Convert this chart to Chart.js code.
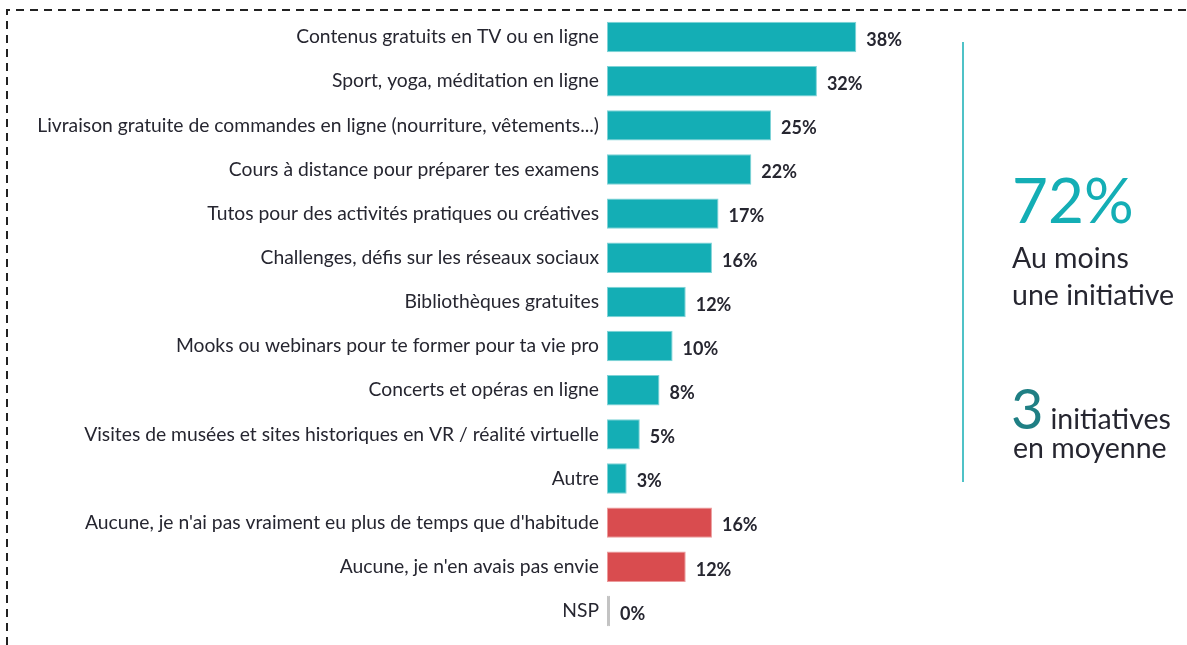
<!DOCTYPE html>
<html>
<head>
<meta charset="utf-8">
<script src="https://cdn.jsdelivr.net/npm/chart.js@4"></script>
<style>
  html, body { margin: 0; padding: 0; background: #fff; }
  #wrap { position: relative; width: 1187px; height: 645px; overflow: hidden; }
  #chart { position: absolute; left: 0; top: 0; }
  .side { position: absolute; font-family: Lato, sans-serif; color: #262630; white-space: nowrap; }
  .big { color: #14aeb5; font-size: 62px; line-height: 1; }
  .big3 { color: #1f7f84; font-size: 56px; line-height: 1; }
  .txt { font-size: 28.5px; line-height: 37px; }
</style>
</head>
<body>
<div id="wrap">
  <canvas id="chart" width="1187" height="645"></canvas>
  <div class="side big" style="left:1012px; top:168px;">72%</div>
  <div class="side txt" style="left:1012px; top:239px;">Au moins<br>une initiative</div>
  <div class="side" style="left:1011px; top:380px;"><span class="big3">3</span><span class="txt" style="margin-left:7px;">initiatives</span></div>
  <div class="side txt" style="left:1013px; top:429px;">en moyenne</div>
</div>
<script>
// Data
const categories = [
  "Contenus gratuits en TV ou en ligne",
  "Sport, yoga, méditation en ligne",
  "Livraison gratuite de commandes en ligne (nourriture, vêtements...)",
  "Cours à distance pour préparer tes examens",
  "Tutos pour des activités pratiques ou créatives",
  "Challenges, défis sur les réseaux sociaux",
  "Bibliothèques gratuites",
  "Mooks ou webinars pour te former pour ta vie pro",
  "Concerts et opéras en ligne",
  "Visites de musées et sites historiques en VR / réalité virtuelle",
  "Autre",
  "Aucune, je n'ai pas vraiment eu plus de temps que d'habitude",
  "Aucune, je n'en avais pas envie",
  "NSP"
];
const values = [38, 32, 25, 22, 17, 16, 12, 10, 8, 5, 3, 16, 12, 0];
const barColors = [
  "#14aeb5", "#14aeb5", "#14aeb5", "#14aeb5", "#14aeb5", "#14aeb5", "#14aeb5",
  "#14aeb5", "#14aeb5", "#14aeb5", "#14aeb5", "#d94c4f", "#d94c4f", "#c3c3c3"
];
const borderColors = [
  "#7fd3d7", "#7fd3d7", "#7fd3d7", "#7fd3d7", "#7fd3d7", "#7fd3d7", "#7fd3d7",
  "#7fd3d7", "#7fd3d7", "#7fd3d7", "#7fd3d7", "#ec9a9b", "#ec9a9b", "#c3c3c3"
];

// value labels + frame + separator line
const extras = {
  id: 'extras',
  afterDatasetsDraw(chart) {
    const ctx = chart.ctx;
    const meta = chart.getDatasetMeta(0);
    ctx.save();
    ctx.font = "bold 18px Lato, sans-serif";
    ctx.fillStyle = "#262630";
    ctx.textBaseline = "middle";
    meta.data.forEach((bar, i) => {
      ctx.fillText(values[i] + "%", bar.x + 10, bar.y + 3);
    });
    ctx.restore();
  },
  beforeDraw(chart) {
    const ctx = chart.ctx;
    ctx.save();
    ctx.strokeStyle = "#222";
    ctx.lineWidth = 2;
    ctx.setLineDash([8, 6]);
    ctx.beginPath();
    ctx.moveTo(7, 645);
    ctx.lineTo(7, 10);
    ctx.lineTo(1187, 10);
    ctx.stroke();
    ctx.setLineDash([]);
    ctx.strokeStyle = "#14aeb5";
    ctx.lineWidth = 1.5;
    ctx.beginPath();
    ctx.moveTo(963, 42);
    ctx.lineTo(963, 482);
    ctx.stroke();
    ctx.restore();
  }
};

new Chart(document.getElementById('chart'), {
  type: 'bar',
  data: {
    labels: categories,
    datasets: [{
      data: values,
      backgroundColor: barColors,
      borderColor: borderColors,
      borderWidth: 1,
      borderSkipped: false,
      minBarLength: 3,
      barPercentage: 0.69,
      categoryPercentage: 1
    }]
  },
  options: {
    indexAxis: 'y',
    responsive: false,
    animation: false,
    layout: { padding: { top: 15, bottom: 12, left: 0, right: 252 } },
    plugins: { legend: { display: false }, tooltip: { enabled: false } },
    scales: {
      x: { display: false, min: 0, max: 50 },
      y: {
        grid: { display: false },
        border: { display: false },
        ticks: {
          color: "#262630",
          padding: 0,
          font: { family: "Lato, sans-serif", size: 19.3 }
        },
        afterFit(scale) { scale.width = 607; }
      }
    }
  },
  plugins: [extras]
});
</script>
</body>
</html>
